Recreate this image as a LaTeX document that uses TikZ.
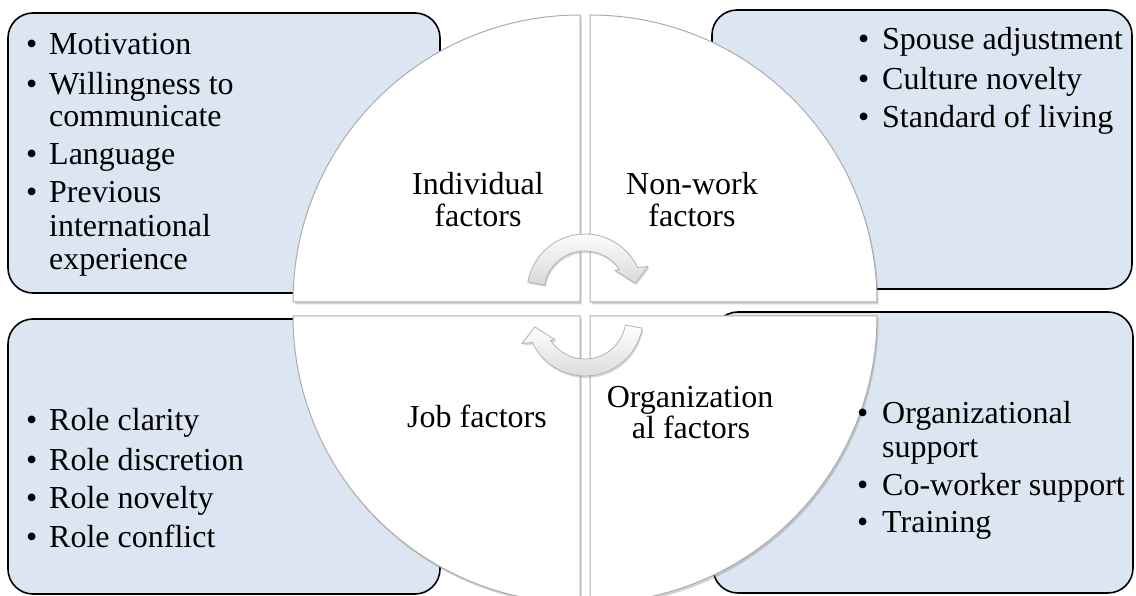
\documentclass[tikz,border=0pt]{standalone}
\usepackage{fontspec}
\setmainfont{Liberation Serif}
\usetikzlibrary{shadows}
\definecolor{boxblue}{RGB}{220,230,242}
\begin{document}
\begin{tikzpicture}[x=1pt,y=-1pt,
  infobox/.style={draw=black,line width=1.6pt,fill=boxblue,rounded corners=25pt},
  quad/.style={draw=gray!65,line width=1pt,fill=white,drop shadow={shadow xshift=1.5pt,shadow yshift=-2.5pt,opacity=0.35}},
  cyc/.style={draw=gray!60,line width=0.8pt,top color=white,bottom color=gray!30,drop shadow={shadow xshift=1pt,shadow yshift=-2pt,opacity=0.3}},
  txt/.style={anchor=base west,inner sep=0pt,font=\fontsize{32}{35}\selectfont},
  lbl/.style={anchor=base,inner sep=0pt,font=\fontsize{32}{35}\selectfont}]
\useasboundingbox (0,0) rectangle (1136,596);
% boxes
\draw[infobox] (8,13) rectangle (440,293);
\draw[infobox] (712,10) rectangle (1132,289);
\draw[infobox] (8,319) rectangle (440,594);
\draw[infobox] (713,312) rectangle (1133,593);
% quadrants
\draw[quad] (580,302) -- (293,302) arc[start angle=180,end angle=270,radius=287] -- cycle;
\draw[quad] (590,302) -- (590,15) arc[start angle=270,end angle=360,radius=287] -- cycle;
\draw[quad] (580,316) -- (580,603) arc[start angle=90,end angle=180,radius=287] -- cycle;
\draw[quad] (590,316) -- (877,316) arc[start angle=0,end angle=90,radius=287] -- cycle;
% cycle arrows
\begin{scope}[shift={(585,292)}]
\draw[cyc] (190:41) -- (190:58) arc[start angle=190,end angle=335,radius=58] -- (338:68) -- (350:51) -- (324:37) -- (327:41) arc[start angle=327,end angle=190,radius=41] -- cycle;
\end{scope}
\begin{scope}[shift={(585,318)}]
\draw[cyc] (10:41) -- (10:58) arc[start angle=10,end angle=155,radius=58] -- (158:68) -- (170:51) -- (144:37) -- (147:41) arc[start angle=147,end angle=10,radius=41] -- cycle;
\end{scope}
% quadrant labels
\node[lbl] (ind1) at (478,195) {Individual};
\node[lbl] (ind2) at (478,227) {factors};
\node[lbl] (nw1) at (692,195) {Non-work};
\node[lbl] (nw2) at (692,227) {factors};
\node[lbl] (job) at (477,427) {Job factors};
\node[lbl] (org1) at (690,407) {Organization};
\node[lbl] (org2) at (691,438) {al factors};
% top-left list
\node[txt] (a1b) at (26,55) {•};
\node[txt] (a1) at (49,55) {Motivation};
\node[txt] (a2b) at (26,95) {•};
\node[txt] (a2) at (49,95) {Willingness to};
\node[txt] (a2c) at (49,127) {communicate};
\node[txt] (a3b) at (26,165) {•};
\node[txt] (a3) at (49,165) {Language};
\node[txt] (a4b) at (26,203) {•};
\node[txt] (a4) at (49,203) {Previous};
\node[txt] (a4c) at (49,237) {international};
\node[txt] (a4d) at (49,270) {experience};
% top-right list
\node[txt] (b1b) at (858,50) {•};
\node[txt] (b1) at (882,50) {Spouse adjustment};
\node[txt] (b2b) at (858,90) {•};
\node[txt] (b2) at (882,90) {Culture novelty};
\node[txt] (b3b) at (858,128) {•};
\node[txt] (b3) at (882,128) {Standard of living};
% bottom-left list
\node[txt] (c1b) at (26,430) {•};
\node[txt] (c1) at (49,430) {Role clarity};
\node[txt] (c2b) at (26,470) {•};
\node[txt] (c2) at (49,470) {Role discretion};
\node[txt] (c3b) at (26,508) {•};
\node[txt] (c3) at (49,508) {Role novelty};
\node[txt] (c4b) at (26,547) {•};
\node[txt] (c4) at (49,547) {Role conflict};
% bottom-right list
\node[txt] (d1b) at (857,423) {•};
\node[txt] (d1) at (882,423) {Organizational};
\node[txt] (d1c) at (882,457) {support};
\node[txt] (d2b) at (857,495) {•};
\node[txt] (d2) at (882,495) {Co-worker support};
\node[txt] (d3b) at (857,532) {•};
\node[txt] (d3) at (882,532) {Training};
\end{tikzpicture}
\end{document}
